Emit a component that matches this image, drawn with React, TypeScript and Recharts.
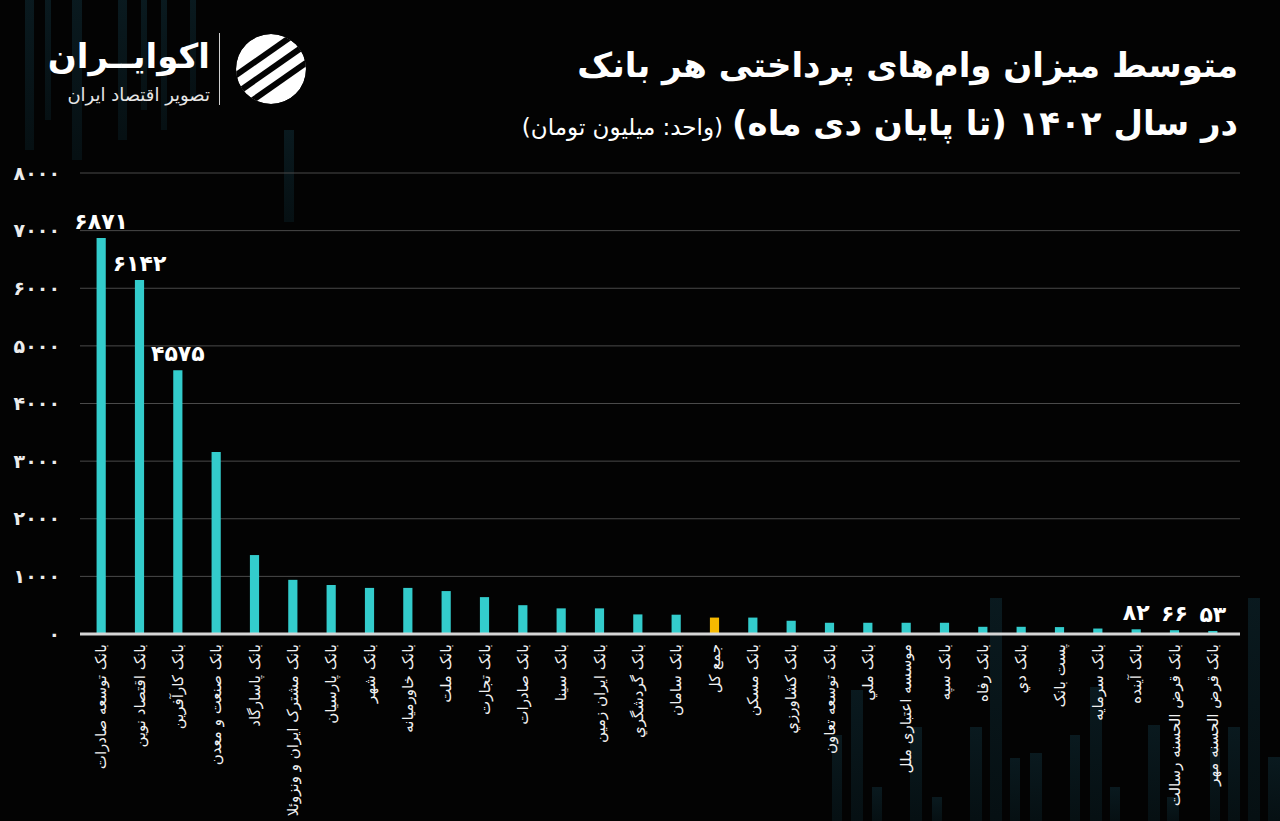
import { Bar, BarChart, CartesianGrid, Cell, LabelList, XAxis, YAxis } from "recharts";

const banks = [
  "بانک توسعه صادرات",
  "بانک اقتصاد نوین",
  "بانک کارآفرین",
  "بانک صنعت و معدن",
  "بانک پاسارگاد",
  "بانک مشترک ایران و ونزوئلا",
  "بانک پارسیان",
  "بانک شهر",
  "بانک خاورمیانه",
  "بانک ملت",
  "بانک تجارت",
  "بانک صادرات",
  "بانک سینا",
  "بانک ایران زمین",
  "بانک گردشگري",
  "بانک سامان",
  "جمع کل",
  "بانک مسکن",
  "بانک کشاورزي",
  "بانک توسعه تعاون",
  "بانک ملي",
  "موسسه اعتباری ملل",
  "بانک سپه",
  "بانک رفاه",
  "بانک دي",
  "پست بانک",
  "بانک سرمايه",
  "بانک آينده",
  "بانک قرض الحسنه رسالت",
  "بانک قرض الحسنه مهر",
];

const loanAverage = [
  6871, 6142, 4575, 3160, 1370, 940, 850, 800, 800, 745, 640, 500, 445, 445, 340,
  335, 285, 285, 230, 195, 195, 195, 195, 125, 125, 120, 95, 82, 66, 53,
];

const labeledBanks = [
  "بانک توسعه صادرات",
  "بانک اقتصاد نوین",
  "بانک کارآفرین",
  "بانک آينده",
  "بانک قرض الحسنه رسالت",
  "بانک قرض الحسنه مهر",
];

const totalName = "جمع کل";
const yTicks = [0, 1000, 2000, 3000, 4000, 5000, 6000, 7000, 8000];

const data = banks.map((name, i) => ({ name, value: loanAverage[i] }));

const fa = (n: number | string) => String(n).replace(/\d/g, (d) => "۰۱۲۳۴۵۶۷۸۹"[+d]);

const FONT = "'DejaVu Sans', sans-serif";

// faint background strips (decoration only)
const deco = [
  [25, 0, 9, 150], [45, 0, 6, 120], [72, 0, 10, 160], [118, 0, 9, 140], [141, 0, 6, 110],
  [161, 0, 6, 130], [190, 0, 6, 100], [284, 130, 10, 92],
  [832, 735, 10, 86], [851, 690, 12, 131], [872, 787, 10, 34], [910, 727, 12, 94],
  [932, 797, 10, 24], [970, 727, 12, 94], [990, 598, 12, 223], [1010, 758, 10, 63],
  [1030, 753, 12, 68], [1070, 735, 10, 86], [1090, 687, 12, 134], [1110, 787, 10, 34],
  [1148, 725, 12, 96], [1167, 797, 12, 24], [1210, 748, 10, 73], [1228, 727, 12, 94],
  [1248, 598, 12, 223], [1268, 757, 12, 64],
];

const XTick = (props: any) => {
  const { x, y, payload } = props;
  return (
    <g transform={`translate(${x},${y + 2})`}>
      <text
        transform="rotate(-90)"
        textAnchor="end"
        dominantBaseline="central"
        fill="#f2f2f2"
        fontSize={15}
        fontFamily={FONT}
      >
        {payload.value}
      </text>
    </g>
  );
};

const ValueLabel = (props: any) => {
  const { x, y, width, index, value } = props;
  const name = index != null ? banks[index] : "";
  if (!labeledBanks.includes(name)) return null;
  return (
    <text
      x={x + width / 2}
      y={y - 9}
      textAnchor="middle"
      fill="#ffffff"
      fontSize={22}
      fontWeight={700}
      fontFamily={FONT}
    >
      {fa(value)}
    </text>
  );
};

const Logo = () => (
  <div style={{ position: "absolute", left: 40, top: 30, width: 280, height: 80 }}>
    <div
      style={{
        position: "absolute",
        left: 8,
        top: 6,
        width: 162,
        textAlign: "right",
        direction: "rtl",
        color: "#fff",
        fontSize: 34,
        fontWeight: 700,
        lineHeight: "40px",
      }}
    >
      اکوایــران
    </div>
    <div
      style={{
        position: "absolute",
        left: 0,
        top: 54,
        width: 170,
        textAlign: "right",
        direction: "rtl",
        color: "#e6e6e6",
        fontSize: 18,
        lineHeight: "22px",
        whiteSpace: "nowrap",
      }}
    >
      تصویر اقتصاد ایران
    </div>
    <div style={{ position: "absolute", left: 179, top: 3, width: 1, height: 72, background: "#cfcfcf" }} />
    <svg style={{ position: "absolute", left: 194, top: 2 }} width={74} height={74} viewBox="0 0 74 74">
      <defs>
        <clipPath id="logoClip">
          <circle cx={37} cy={37} r={35} />
        </clipPath>
      </defs>
      <g clipPath="url(#logoClip)">
        <circle cx={37} cy={37} r={35} fill="#ffffff" />
        <g transform="rotate(-35 37 37)">
          <rect x={-10} y={19} width={100} height={6} fill="#030303" />
          <rect x={-10} y={34} width={100} height={6} fill="#030303" />
          <rect x={-10} y={49} width={100} height={6} fill="#030303" />
        </g>
      </g>
    </svg>
  </div>
);

const App = () => {
  return (
    <div
      style={{
        position: "relative",
        width: 1280,
        height: 821,
        background: "#030303",
        overflow: "hidden",
        fontFamily: FONT,
      }}
    >
      <style>{`body{margin:0;background:#030303}`}</style>
      <svg style={{ position: "absolute", left: 0, top: 0 }} width={1280} height={821}>
        <defs>
          <linearGradient id="decoFade" x1="0" y1="0" x2="0" y2="1">
            <stop offset="0%" stopColor="#0c2128" />
            <stop offset="100%" stopColor="#071418" />
          </linearGradient>
        </defs>
        {deco.map(([x, y, w, h], i) => (
          <rect key={i} x={x} y={y} width={w} height={h} fill="url(#decoFade)" opacity={0.75} />
        ))}
      </svg>

      <Logo />

      <div
        style={{
          position: "absolute",
          right: 42,
          top: 40,
          direction: "rtl",
          color: "#fff",
          fontSize: 34,
          fontWeight: 700,
          whiteSpace: "nowrap",
          lineHeight: "50px",
        }}
      >
        متوسط میزان وام‌های پرداختی هر بانک
      </div>
      <div
        style={{
          position: "absolute",
          right: 42,
          top: 98,
          direction: "rtl",
          color: "#fff",
          whiteSpace: "nowrap",
          lineHeight: "50px",
        }}
      >
        <span style={{ fontSize: 34, fontWeight: 700 }}>در سال {fa(1402)} (تا پایان دی ماه)</span>
        <span style={{ fontSize: 23, marginRight: 9 }}>(واحد: میلیون تومان)</span>
      </div>

      <div style={{ position: "absolute", left: 0, top: 0 }}>
        <BarChart
          width={1280}
          height={821}
          data={data}
          margin={{ top: 173, right: 40, bottom: 7, left: 0 }}
          barCategoryGap="62%"
        >
          <CartesianGrid vertical={false} stroke="#4a4a4a" strokeWidth={1} />
          <XAxis
            dataKey="name"
            interval={0}
            height={180}
            axisLine={{ stroke: "#d6d6d6", strokeWidth: 3 }}
            tickLine={false}
            tick={<XTick />}
            padding={{ left: 2, right: 8 }}
          />
          <YAxis
            width={80}
            domain={[0, 8000]}
            ticks={yTicks}
            tickFormatter={fa}
            axisLine={false}
            tickLine={false}
            tickSize={0}
            tickMargin={20}
            tick={{ fill: "#ececec", fontSize: 19, fontWeight: 700, fontFamily: FONT }}
          />
          <Bar dataKey="value" isAnimationActive={false}>
            {data.map((d) => (
              <Cell key={d.name} fill={d.name === totalName ? "#f6b900" : "#33cccc"} />
            ))}
            <LabelList dataKey="value" content={<ValueLabel />} />
          </Bar>
        </BarChart>
      </div>
    </div>
  );
};

export default App;
